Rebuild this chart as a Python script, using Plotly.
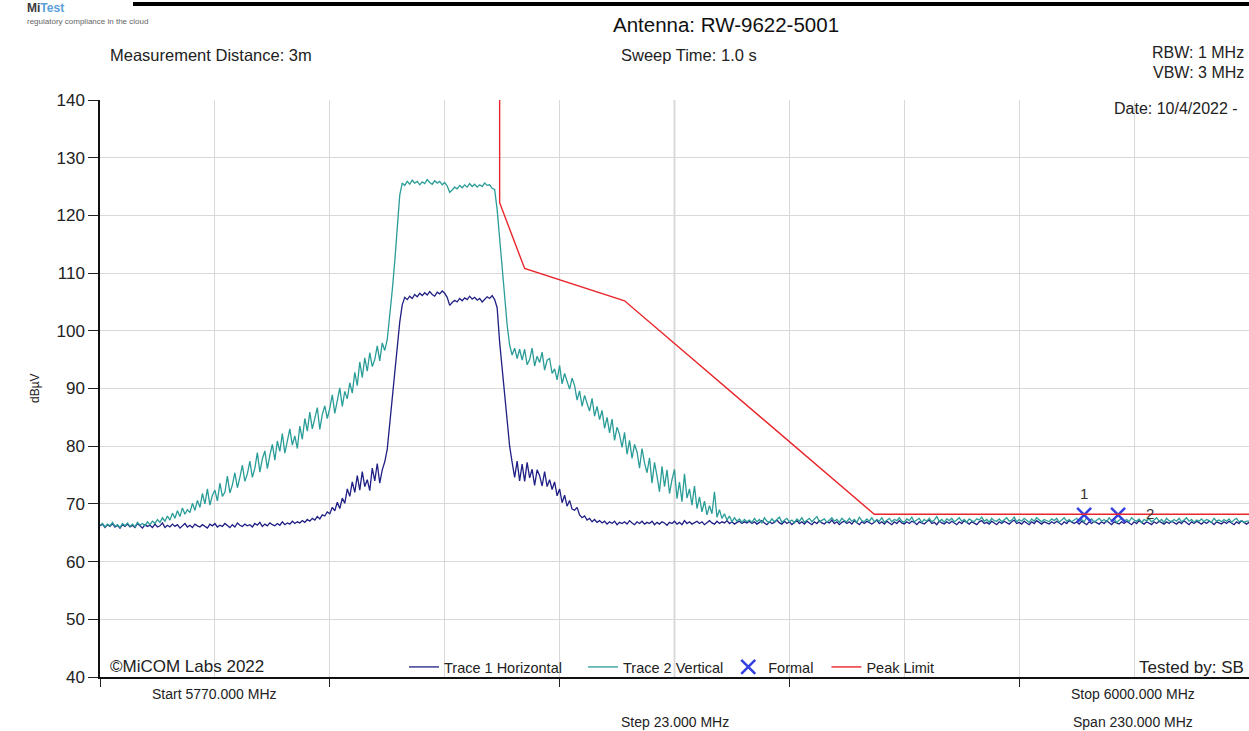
import numpy as np
import plotly.graph_objects as go

# ---------------- data ----------------
f_start = 5770.0
f_step = 0.5

trace1_horizontal = [
    66.2,66.5,65.9,66.4,66.1,66.6,66.0,66.3,65.8,66.4,
    66.1,66.5,66.0,66.3,65.9,66.6,66.2,65.8,66.4,66.1,
    66.3,65.9,66.5,66.0,66.2,66.7,65.9,66.3,66.0,66.5,
    66.1,66.4,65.8,66.2,66.6,66.0,66.3,65.9,66.5,66.2,
    66.0,66.4,66.1,65.8,66.5,66.2,66.6,66.0,66.3,66.1,
    66.6,66.2,65.9,66.4,66.0,66.7,66.3,66.1,66.5,66.2,
    66.4,66.0,66.6,66.3,66.8,66.1,66.5,66.2,66.7,66.4,
    66.2,66.6,66.3,66.9,66.4,66.7,66.5,67.0,66.6,66.9,
    66.7,67.1,66.8,67.3,67.0,67.5,67.2,67.8,67.4,68.1,
    67.9,68.6,68.3,69.4,68.8,70.3,69.2,71.0,70.1,72.6,
    71.3,73.8,72.0,74.9,72.4,75.6,73.0,74.2,72.3,76.2,
    74.0,77.0,73.6,75.9,77.3,79.5,84.0,88.0,92.0,97.0,
    101.5,104.5,105.8,105.4,106.0,105.6,106.3,105.9,106.5,106.1,
    106.6,106.2,106.8,106.3,106.0,106.7,106.4,106.9,106.5,105.8,
    104.4,104.9,105.3,105.0,105.6,105.2,105.7,105.4,106.0,105.5,
    105.8,105.3,105.6,105.0,105.4,105.9,105.6,106.1,105.4,104.0,
    98.0,93.5,89.0,84.5,80.0,77.2,74.6,77.4,74.0,76.9,
    73.9,77.2,74.5,76.0,73.2,75.9,74.9,73.1,75.6,73.0,
    74.2,72.5,73.8,71.4,72.6,70.2,71.5,69.6,70.6,69.1,
    68.9,69.4,68.1,67.6,67.9,67.2,67.5,66.9,67.3,66.8,
    67.1,66.7,67.0,66.5,66.9,66.6,67.0,66.4,66.8,66.6,
    66.9,66.5,67.1,66.7,66.4,66.9,66.6,67.0,66.5,66.8,
    66.6,67.0,66.4,66.8,66.5,66.9,66.7,66.3,66.8,66.6,
    67.0,66.5,66.8,66.4,67.1,66.6,66.9,66.5,66.8,67.0,
    66.6,66.9,66.4,66.8,67.1,66.7,66.5,67.0,66.6,66.9,
    66.7,67.1,66.6,66.9,66.5,66.8,67.0,66.6,66.9,66.7,
    67.0,66.6,66.9,66.5,66.8,67.1,66.7,66.4,66.9,66.6,
    66.8,67.2,66.7,66.5,67.0,66.6,66.9,66.4,66.8,67.1,
    66.6,66.9,66.5,67.0,66.7,66.4,66.9,66.6,67.1,66.7,
    66.5,66.9,66.7,67.2,66.6,66.9,66.4,66.8,67.0,66.6,
    66.9,66.5,67.1,66.7,66.4,66.9,66.6,67.0,66.7,66.5,
    66.8,67.2,66.6,66.9,66.5,67.0,66.7,66.4,66.9,66.6,
    67.1,66.7,66.5,66.9,66.6,67.0,66.8,66.4,66.9,66.7,
    66.5,66.9,67.2,66.6,66.8,66.4,67.0,66.7,66.5,66.9,
    66.6,67.0,66.7,66.4,66.9,66.6,67.1,66.8,66.5,66.9,
    66.7,66.4,66.9,67.1,66.6,66.8,66.5,67.0,66.7,66.4,
    66.9,66.6,67.0,66.7,66.5,66.9,67.2,66.6,66.8,66.5,
    67.0,66.7,66.4,66.9,66.6,67.1,66.8,66.5,66.9,66.7,
    66.5,66.9,66.6,67.0,66.7,66.4,66.9,66.6,67.1,66.8,
    66.6,66.9,66.5,67.0,66.7,66.4,66.9,66.6,67.0,66.7,
    66.5,66.9,66.6,67.1,66.8,66.4,66.9,66.7,66.5,66.9,
    66.6,67.0,66.7,66.4,66.9,66.6,67.1,66.8,66.5,66.9,
    66.7,66.4,66.9,66.6,67.0,66.7,66.5,66.9,66.6,67.0,
    66.8,66.5,66.9,66.6,67.1,66.7,66.4,66.9,66.6,67.0,
    66.7,66.5,66.9,66.6,67.0,66.8,66.4,66.9,66.7,66.5,
    66.9,66.6,67.0,66.7,66.4,66.9,66.6,67.1,66.8,66.5,
    66.8,
]

trace2_vertical = [
    66.3,66.6,66.0,66.5,66.2,66.8,66.1,66.4,65.9,66.6,
    66.2,66.7,66.1,66.5,66.0,66.8,66.3,66.6,66.2,66.9,
    66.4,67.0,66.6,67.3,66.8,67.6,67.0,67.9,67.2,68.4,
    67.5,68.8,67.8,69.3,68.2,69.0,68.5,70.1,68.9,70.6,
    69.4,71.8,70.0,72.6,69.8,71.5,72.4,70.5,73.6,71.3,
    72.0,74.8,71.9,73.3,75.4,72.8,74.6,76.7,73.9,75.2,
    77.4,74.6,76.2,78.9,75.5,77.8,79.2,76.1,78.4,80.3,
    77.6,80.9,79.1,82.2,78.8,81.0,83.0,80.2,81.8,79.6,
    83.5,81.2,84.8,82.6,85.9,83.0,84.6,86.7,82.9,85.5,
    87.0,84.8,86.6,88.9,85.7,87.8,90.1,86.9,89.5,88.2,
    91.0,89.2,92.8,90.5,94.6,91.9,95.3,93.0,96.2,93.8,
    95.0,97.4,94.8,97.9,96.6,98.5,102.5,107.0,112.0,118.0,
    123.5,125.6,125.2,125.9,125.4,126.1,125.6,125.9,125.3,125.8,
    125.5,126.2,125.7,125.4,126.0,125.6,125.9,125.3,125.7,125.1,
    124.0,124.4,124.9,124.6,125.2,124.8,125.3,124.9,125.5,125.0,
    125.4,124.9,125.3,125.0,125.6,125.2,125.3,124.7,124.5,121.0,
    116.0,109.5,104.5,101.0,97.5,95.8,97.0,95.2,96.8,94.9,
    96.8,94.1,95.0,97.0,93.9,95.6,94.5,96.3,93.2,94.9,
    95.2,92.6,93.4,91.5,94.0,90.8,92.6,91.1,89.9,91.8,
    90.5,88.0,89.6,86.9,88.8,87.4,86.1,88.3,85.2,86.9,
    84.6,86.2,83.1,85.0,82.3,84.7,81.0,83.3,82.0,79.8,
    82.4,78.6,81.0,77.9,80.3,79.0,76.2,79.6,77.1,75.4,
    78.0,73.6,77.2,74.8,72.1,76.5,73.0,75.9,71.8,74.2,
    76.0,70.9,73.8,70.4,75.2,71.0,72.6,69.8,73.1,69.2,
    71.2,68.6,70.5,68.1,69.7,68.3,72.1,67.7,69.0,67.5,
    68.3,67.2,67.9,66.9,67.6,67.0,67.4,66.8,67.3,66.9,
    67.2,66.8,67.5,66.9,67.3,66.7,67.6,67.0,66.8,67.4,
    66.9,67.3,67.7,66.8,67.1,67.5,66.9,67.2,66.7,67.4,
    67.0,67.6,66.8,67.2,67.5,66.9,67.3,67.8,66.9,67.1,
    67.4,66.8,67.2,67.6,67.0,67.3,66.8,67.5,67.1,66.9,
    67.5,67.0,67.3,66.8,67.7,67.1,66.9,67.4,67.0,67.6,
    66.9,67.3,67.0,67.6,66.8,67.2,67.5,66.9,67.3,67.1,
    67.6,67.0,66.8,67.4,67.1,67.7,66.9,67.2,67.5,66.8,
    67.3,67.0,67.5,66.9,67.2,67.8,67.0,67.3,66.8,67.4,
    67.1,67.5,66.9,67.2,67.6,67.0,67.3,66.8,67.4,67.1,
    66.9,67.4,67.2,67.7,67.0,67.3,66.8,67.5,67.1,67.0,
    67.4,66.9,67.3,67.6,67.0,67.2,67.7,66.9,67.3,67.0,
    67.5,67.1,66.8,67.4,67.0,67.6,67.2,66.9,67.3,67.1,
    66.9,67.4,67.1,67.5,66.8,67.2,67.6,67.0,67.3,66.9,
    67.2,67.5,67.0,67.3,66.9,67.6,67.1,67.4,66.8,67.2,
    67.5,67.0,67.3,66.9,67.6,67.1,67.4,66.8,67.2,67.5,
    67.0,67.3,66.9,67.6,67.2,67.0,67.4,66.8,67.3,67.1,
    67.4,66.9,67.2,67.6,67.0,67.3,66.8,67.5,67.1,66.9,
    67.3,67.0,67.5,66.9,67.2,67.6,67.0,67.3,66.8,67.2,
    67.0,67.4,66.9,67.3,67.1,66.8,67.5,67.0,67.2,66.9,
    67.3,67.0,67.4,66.8,67.2,67.5,66.9,67.1,66.8,67.0,
    67.0,
]

freqs = [f_start + i * f_step for i in range(len(trace1_horizontal))]

limit_freq = [5850, 5850, 5855, 5875, 5925, 6000]
limit_val = [150, 122.2, 110.8, 105.2, 68.2, 68.2]

marker_freq = [5967.0, 5973.8]
marker_val = [68.1, 68.1]
marker_labels = ["1", "2"]

y_ticks = [40, 50, 60, 70, 80, 90, 100, 110, 120, 130, 140]

# ---------------- layout helpers ----------------
W, H = 1249, 731
L, R, T, B = 100, 0, 100, 54
PW = W - L - R
PH = H - T - B


def px(xp):
    return (xp - L) / PW


def py(yp):
    return (H - B - yp) / PH


FONT = "Liberation Sans, Arial, sans-serif"
NAVY = "#1f1f85"
TEAL = "#2a9d98"
RED = "#e8262b"
MBLUE = "#3340e0"
NB = "\u00a0"

fig = go.Figure()

fig.add_trace(go.Scatter(x=freqs, y=trace1_horizontal, mode="lines",
                         name="Trace 1 Horizontal" + NB * 4,
                         line=dict(color=NAVY, width=1.3)))
fig.add_trace(go.Scatter(x=freqs, y=trace2_vertical, mode="lines",
                         name="Trace 2 Vertical",
                         line=dict(color=TEAL, width=1.3)))
fig.add_trace(go.Scatter(x=marker_freq, y=marker_val, mode="markers",
                         name="Formal" + NB * 2,
                         marker=dict(symbol="x-thin-open", size=14,
                                     line=dict(color=MBLUE, width=2.5),
                                     color=MBLUE)))
fig.add_trace(go.Scatter(x=limit_freq, y=limit_val, mode="lines",
                         name="Peak Limit",
                         line=dict(color=RED, width=1.4)))

# darker centre grid line
fig.add_shape(type="line", xref="x", yref="paper", x0=5885, x1=5885, y0=0, y1=1,
              line=dict(color="#8c8c8c", width=1.3), layer="between")
# top black bar
fig.add_shape(type="line", xref="paper", yref="paper", x0=px(133), x1=px(1260),
              y0=py(4), y1=py(4), line=dict(color="black", width=4))

annos = []


def add_text(text, xp, yp, size=15, xanchor="center", color="#222222", **kw):
    annos.append(dict(text=text, x=px(xp), y=py(yp), xref="paper", yref="paper",
                      xanchor=xanchor, yanchor="middle", showarrow=False,
                      font=dict(family=FONT, size=size, color=color), **kw))


# marker labels
annos.append(dict(text=marker_labels[0], x=marker_freq[0], y=marker_val[0], xref="x", yref="y",
                  yshift=21, showarrow=False, font=dict(family=FONT, size=15, color="#333333")))
annos.append(dict(text=marker_labels[1], x=marker_freq[1], y=marker_val[1], xref="x", yref="y",
                  xshift=32, yshift=1, showarrow=False, font=dict(family=FONT, size=15, color="#333333")))

# logo
add_text("<b><span style='color:#3a3a3a'>Mi</span><span style='color:#5aa0d8'>Test</span></b>",
         25, 8, size=12, xanchor="left")
add_text("regulatory compliance in the cloud", 25, 21, size=8, xanchor="left", color="#666666")

add_text("Antenna: RW-9622-5001", 726, 25, size=20.5, color="#111111")
add_text("Measurement Distance: 3m", 211, 55, size=16.5)
add_text("Sweep Time: 1.0 s", 689, 55, size=16.5)
add_text("RBW: 1 MHz", 1246, 52, size=16, xanchor="right")
add_text("VBW: 3 MHz", 1246, 73, size=16, xanchor="right")
add_text("Date: 10/4/2022 -", 1240, 109, size=16, xanchor="right")
add_text("©MiCOM Labs 2022", 108, 666, size=17, xanchor="left")
add_text("Tested by: SB", 1246, 667, size=17, xanchor="right")
add_text("Start 5770.000 MHz", 214, 694, size=14)
add_text("Stop 6000.000 MHz", 1133, 694, size=14)
add_text("Step 23.000 MHz", 675, 722, size=14)
add_text("Span 230.000 MHz", 1133, 722, size=14)
add_text("dBµV", 35, 388, size=12, textangle=-90)

fig.update_layout(
    width=W, height=H,
    margin=dict(l=L, r=R, t=T, b=B, pad=0),
    paper_bgcolor="white", plot_bgcolor="white",
    font=dict(family=FONT, size=15, color="#222222"),
    annotations=annos,
    showlegend=True,
    legend=dict(orientation="h", x=px(404), y=py(667), xanchor="left", yanchor="middle",
                bgcolor="rgba(0,0,0,0)", font=dict(family=FONT, size=14.5, color="#222222"),
                itemwidth=30, tracegroupgap=0),
)

fig.update_xaxes(range=[5770, 6000], tick0=5770, dtick=46, ticks="outside", ticklen=8,
                 tickcolor="#222222", showticklabels=False, showgrid=True,
                 gridcolor="#d9d9d9", gridwidth=1, showline=True, linecolor="#111111",
                 linewidth=1.5, zeroline=False,
                 minor=dict(dtick=23, tick0=5770, showgrid=True, gridcolor="#d9d9d9",
                            ticks=""))
fig.update_yaxes(range=[40, 140], tickvals=y_ticks, ticks="outside", ticklen=10,
                 tickcolor="#222222", tickfont=dict(family=FONT, size=17, color="#222222"),
                 showgrid=True, gridcolor="#d9d9d9", gridwidth=1, showline=True,
                 linecolor="#111111", linewidth=1.5, zeroline=False)

fig.write_html("out.html")
